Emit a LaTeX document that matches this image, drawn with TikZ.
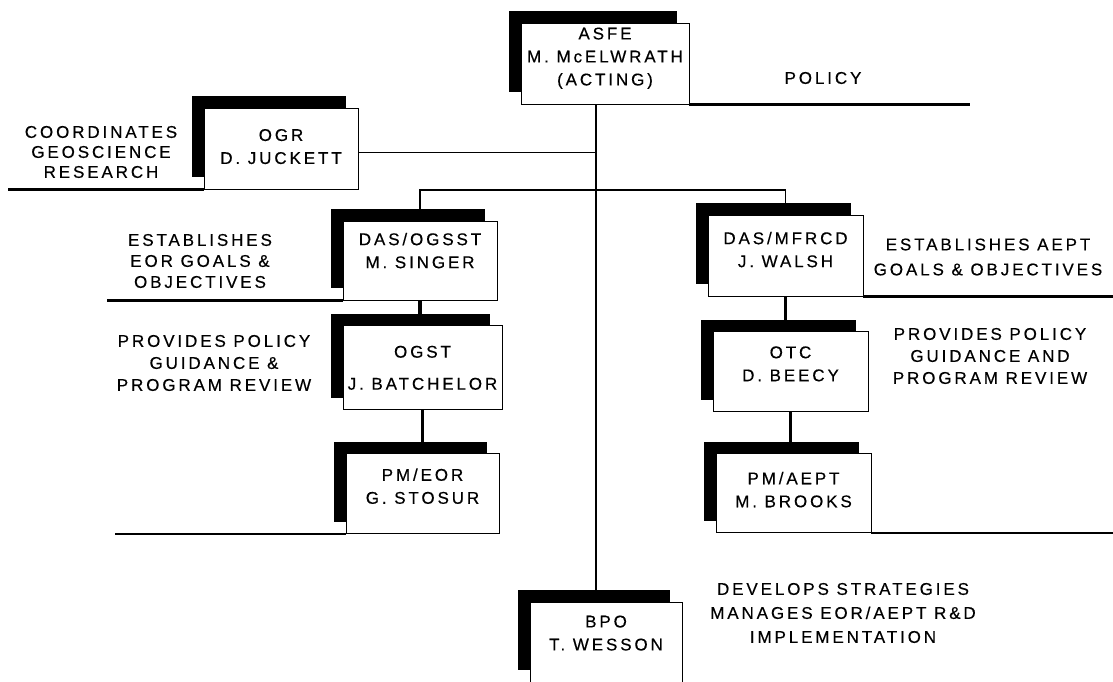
\documentclass[tikz,border=0pt]{standalone}
\usepackage{fontspec}
\setmainfont{Liberation Sans}[LetterSpace=17, FakeBold=0.4]
\usepackage{tikz}
\usetikzlibrary{positioning, shadows, backgrounds}
\newcommand{\padbelow}[1]{\\[#1]\mbox{}}

\begin{document}
\begin{tikzpicture}[
    x=1pt, y=-1pt,
    office/.style={rectangle, draw=black, line width=0.8pt, fill=white, minimum width=155pt, minimum height=80pt, align=center, font=\fontsize{17}{23}\selectfont, drop shadow={shadow xshift=-12pt, shadow yshift=12pt, fill=black, opacity=1}},
    duty/.style={align=center, font=\fontsize{17}{22}\selectfont},
    link/.style={line width=1.8pt},
    heavy/.style={line width=3.2pt},
    rule/.style={line width=2.4pt}
]
    \useasboundingbox (0,0) rectangle (1113,682);

    % offices
    \node[office, minimum width=168pt, minimum height=81pt] (asfe) at (605,63.5) {ASFE\\M. McELWRATH\\(ACTING)\padbelow{-9pt}};
    \node[office, minimum width=154pt, minimum height=81pt] (ogr) at (281,148.5) {OGR\\D. JUCKETT\padbelow{-19pt}};
    \node[office, minimum width=154pt, minimum height=79pt] (dasogsst) at (420,260.5) {DAS/OGSST\\M. SINGER\padbelow{-3pt}};
    \node[office, below=25pt of dasogsst, xshift=2.5pt, minimum width=159pt, minimum height=84pt] (ogst) {OGST\\[9pt]J. BATCHELOR};
    \node[office, below=43pt of ogst, minimum width=153pt] (pmeor) {PM/EOR\\G. STOSUR\padbelow{-8pt}};
    \node[office, minimum height=81pt] (dasmfrcd) at (785.5,255.5) {DAS/MFRCD\\J. WALSH\padbelow{-11pt}};
    \node[office, below=35pt of dasmfrcd, xshift=5pt] (otc) {OTC\\D. BEECY\padbelow{-7pt}};
    \node[office, below=41pt of otc, xshift=3pt, minimum height=79pt] (pmaept) {PM/AEPT\\M. BROOKS\padbelow{-16pt}};
    \node[office, minimum width=152pt] (bpo) at (606,642) {BPO\\T. WESSON\padbelow{-5pt}};

    % duties
    \node[duty] (policy) at (823,78) {POLICY};
    \node[duty, font=\fontsize{17}{20}\selectfont] (research) at (101,152) {COORDINATES\\GEOSCIENCE\\RESEARCH};
    \node[duty, font=\fontsize{17}{21}\selectfont] (eorgoals) at (200,261) {ESTABLISHES\\EOR GOALS \&\\OBJECTIVES};
    \node[duty] (eorreview) at (214,363) {PROVIDES POLICY\\GUIDANCE \&\\PROGRAM REVIEW};
    \node[duty, font=\fontsize{17}{25}\selectfont] (aeptgoals) at (988,257) {ESTABLISHES AEPT\\GOALS \& OBJECTIVES};
    \node[duty] (aeptreview) at (990,356) {PROVIDES POLICY\\GUIDANCE AND\\PROGRAM REVIEW};
    \node[duty, font=\fontsize{17}{24}\selectfont] (strategy) at (843,613) {DEVELOPS STRATEGIES\\MANAGES EOR/AEPT R\&D\\IMPLEMENTATION};

    \coordinate (spine) at (596,0);
    \coordinate (fork) at (596,190);
    \coordinate (policyend) at (970,104);
    \coordinate (researchend) at (8,189);
    \coordinate (eorgoalend) at (107,300);
    \coordinate (eorend) at (115,532);
    \coordinate (aeptgoalend) at (1113,294);
    \coordinate (aeptend) at (1113,531);

    \begin{scope}[on background layer]
        \draw[link] (asfe.south -| spine) -- (bpo.north -| spine);
        \draw[rule] (asfe.south east) -- (asfe.south east -| policyend);
        \draw[link] ([yshift=-4pt]ogr.east) -- ([yshift=-4pt]ogr.east -| spine);
        \draw[rule] (ogr.south west) -- (ogr.south west -| researchend);
        \draw[link] (dasogsst.north) |- (fork) -| (dasmfrcd.north);
        \draw[rule] (dasogsst.south west) -- (dasogsst.south west -| eorgoalend);
        \draw[heavy] (dasogsst.south) -- (dasogsst.south |- ogst.north);
        \draw[heavy] (ogst.south) -- (ogst.south |- pmeor.north);
        \draw[rule] (pmeor.south west) -- (pmeor.south west -| eorend);
        \draw[rule] (dasmfrcd.south east) -- (dasmfrcd.south east -| aeptgoalend);
        \draw[heavy] (dasmfrcd.south) -- (dasmfrcd.south |- otc.north);
        \draw[heavy] (otc.south) -- (otc.south |- pmaept.north);
        \draw[rule] (pmaept.south east) -- (pmaept.south east -| aeptend);
    \end{scope}

\end{tikzpicture}
\end{document}
